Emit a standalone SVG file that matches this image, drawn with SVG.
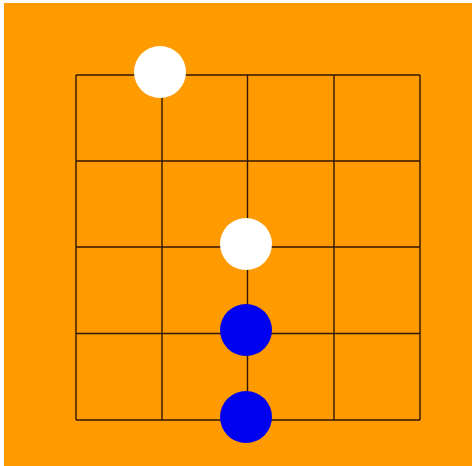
<svg xmlns="http://www.w3.org/2000/svg" width="472" height="466" viewBox="0 0 472 466">
<style>
.g{stroke:#301608;stroke-width:1.4;fill:none}
.w{fill:#ffffff}
.b{fill:#0000f0}
</style>
<rect x="0" y="0" width="472" height="466" fill="#ffffff"/>
<rect x="4" y="3" width="468" height="463" fill="#ff9a00"/>
<g id="connectors" class="g">
<path d="M76 75H420M76 161H420M76 247H420M76 333.5H420M76 420H420"/>
<path d="M76 75V420M162 75V420M247.5 75V420M334 75V420M420 75V420"/>
</g>
<g id="stone1"><circle class="w" cx="160" cy="72" r="26"/></g>
<g id="stone2"><circle class="w" cx="246" cy="244" r="26"/></g>
<g id="stone3"><circle class="b" cx="246" cy="330" r="26"/></g>
<g id="stone4"><circle class="b" cx="246" cy="417" r="26"/></g>
</svg>
